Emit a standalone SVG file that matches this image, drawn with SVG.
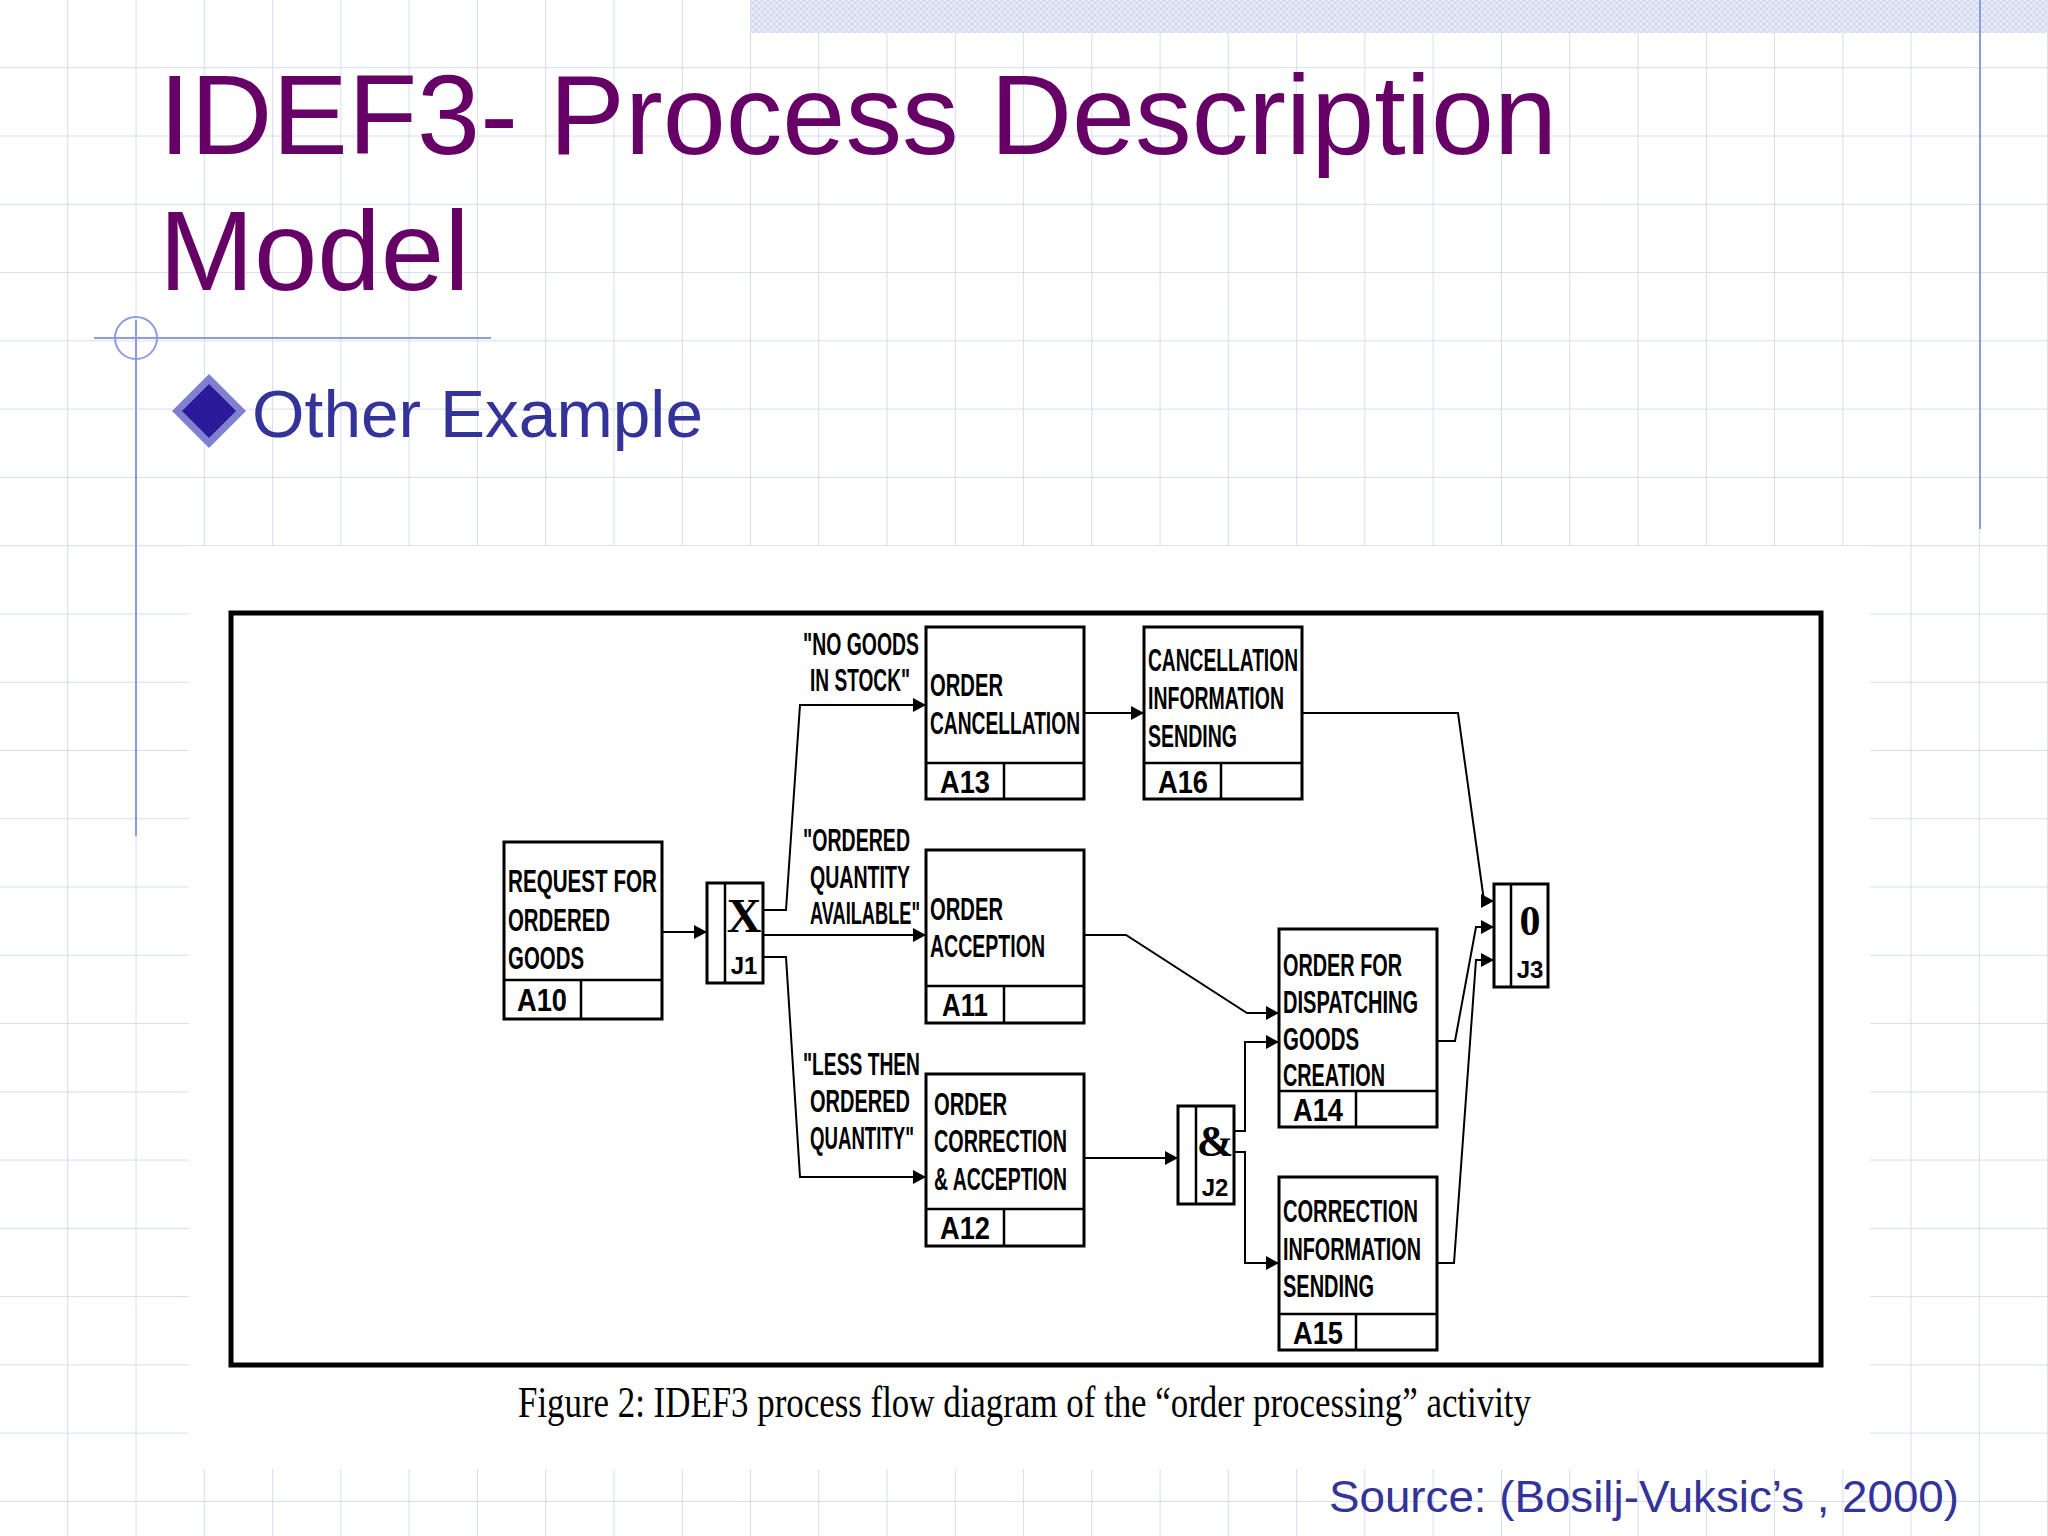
<svg xmlns="http://www.w3.org/2000/svg" width="2048" height="1536" viewBox="0 0 2048 1536">
<defs>
<pattern id="grid" width="68.27" height="68.27" patternUnits="userSpaceOnUse">
<path d="M68.27 0V68.27M0 68.27H68.27" fill="none" stroke="#c9d2f0" stroke-width="1.5"/>
</pattern>
<pattern id="tex" width="6" height="6" patternUnits="userSpaceOnUse">
<rect width="6" height="6" fill="#e6eaf7"/><path d="M0 0L6 6M6 0L0 6" stroke="#cdd5ee" stroke-width="1"/>
</pattern>
<marker id="ar" markerWidth="13" markerHeight="14" refX="13" refY="7" orient="auto" markerUnits="userSpaceOnUse">
<path d="M0 0L13 7L0 14Z" fill="#000"/>
</marker>
</defs>
<style>
.box{fill:#fff;stroke:#000;stroke-width:3}
.ln{fill:none;stroke:#000;stroke-width:2.5}
.c{fill:none;stroke:#000;stroke-width:2;marker-end:url(#ar)}
.t{font-family:"Liberation Sans",Arial,sans-serif;font-weight:bold;font-size:32px;fill:#000}
.j{font-family:"Liberation Serif","Times New Roman",serif;font-weight:bold;fill:#000;text-anchor:middle}
.jl{font-family:"Liberation Sans",Arial,sans-serif;font-weight:bold;font-size:24px;fill:#000;text-anchor:middle}
</style>
<rect width="2048" height="1536" fill="#fff"/>
<rect width="2048" height="1536" fill="url(#grid)"/>
<rect x="751" y="0" width="1297" height="33" fill="url(#tex)"/>
<line x1="1980" y1="0" x2="1980" y2="529" stroke="#8d9be0" stroke-width="2"/>
<line x1="94" y1="338" x2="491" y2="338" stroke="#8d9be0" stroke-width="2"/>
<line x1="136" y1="320" x2="136" y2="836" stroke="#8d9be0" stroke-width="2"/>
<circle cx="136" cy="338" r="21" fill="none" stroke="#8d9be0" stroke-width="2"/>
<text x="159" y="154" font-family="Liberation Sans,Arial,sans-serif" font-size="114" fill="#660066" textLength="1398" lengthAdjust="spacingAndGlyphs">IDEF3- Process Description</text>
<text x="159" y="290" font-family="Liberation Sans,Arial,sans-serif" font-size="114" fill="#660066">Model</text>
<path d="M209 374L246 411L209 448L172 411Z" fill="#8080d0"/>
<path d="M209 384L236 411L209 438L182 411Z" fill="#2a1a9a"/>
<text x="252" y="437" font-family="Liberation Sans,Arial,sans-serif" font-size="67" fill="#333399" textLength="451" lengthAdjust="spacingAndGlyphs">Other Example</text>
<rect x="189" y="546" width="1681" height="923" fill="#fff"/>
<rect x="231" y="613" width="1590" height="752" fill="#fff" stroke="#000" stroke-width="5"/>
<text x="518" y="1417" font-family="Liberation Serif,Times New Roman,serif" font-size="44" textLength="1013" lengthAdjust="spacingAndGlyphs">Figure 2: IDEF3 process flow diagram of  the “order processing” activity</text>
<text x="1959" y="1512" text-anchor="end" font-family="Liberation Sans,Arial,sans-serif" font-size="44" fill="#333399" textLength="630" lengthAdjust="spacingAndGlyphs">Source: (Bosilj-Vuksic’s , 2000)</text>

<g id="connectors">
<path class="c" d="M662 932H707"/>
<path class="c" d="M763 910H786L800 705H926"/>
<path class="c" d="M763 935H926"/>
<path class="c" d="M763 957H786L800 1177H926"/>
<path class="c" d="M1084 713H1144"/>
<path class="c" d="M1302 713H1458L1484 901H1494"/>
<path class="c" d="M1084 935H1126L1247 1013H1279"/>
<path class="c" d="M1084 1158H1178"/>
<path class="c" d="M1234 1131H1245V1042H1279"/>
<path class="c" d="M1234 1152H1245V1263H1279"/>
<path class="c" d="M1437 1041H1455L1476 927H1494"/>
<path class="c" d="M1437 1263H1454L1476 960H1494"/>
</g>
<g id="labels">
<text class="t" x="803" y="655" textLength="116" lengthAdjust="spacingAndGlyphs">"NO GOODS</text>
<text class="t" x="810" y="691" textLength="100" lengthAdjust="spacingAndGlyphs">IN STOCK"</text>
<text class="t" x="803" y="851" textLength="107" lengthAdjust="spacingAndGlyphs">"ORDERED</text>
<text class="t" x="810" y="888" textLength="100" lengthAdjust="spacingAndGlyphs">QUANTITY</text>
<text class="t" x="810" y="924" textLength="110" lengthAdjust="spacingAndGlyphs">AVAILABLE"</text>
<text class="t" x="803" y="1075" textLength="117" lengthAdjust="spacingAndGlyphs">"LESS THEN</text>
<text class="t" x="810" y="1112" textLength="100" lengthAdjust="spacingAndGlyphs">ORDERED</text>
<text class="t" x="810" y="1149" textLength="104" lengthAdjust="spacingAndGlyphs">QUANTITY"</text>
</g>
<g id="A10">
<rect class="box" x="504" y="842" width="158" height="177"/><path class="ln" d="M504 980H662M581 980V1019"/>
<text class="t" x="508" y="892" textLength="149" lengthAdjust="spacingAndGlyphs">REQUEST FOR</text>
<text class="t" x="508" y="931" textLength="102" lengthAdjust="spacingAndGlyphs">ORDERED</text>
<text class="t" x="508" y="969" textLength="76" lengthAdjust="spacingAndGlyphs">GOODS</text>
<text class="t" x="542" y="1011" text-anchor="middle" textLength="50" lengthAdjust="spacingAndGlyphs">A10</text>
</g>
<g id="J1">
<rect class="box" x="707" y="883" width="56" height="100"/><path class="ln" d="M725 883V983"/>
<text class="j" x="744" y="932" font-size="48">X</text>
<text class="jl" x="744" y="974">J1</text>
</g>
<g id="A13">
<rect class="box" x="926" y="627" width="158" height="172"/><path class="ln" d="M926 763H1084M1004 763V799"/>
<text class="t" x="930" y="696" textLength="73" lengthAdjust="spacingAndGlyphs">ORDER</text>
<text class="t" x="930" y="734" textLength="150" lengthAdjust="spacingAndGlyphs">CANCELLATION</text>
<text class="t" x="965" y="793" text-anchor="middle" textLength="50" lengthAdjust="spacingAndGlyphs">A13</text>
</g>
<g id="A11">
<rect class="box" x="926" y="850" width="158" height="173"/><path class="ln" d="M926 986H1084M1004 986V1023"/>
<text class="t" x="930" y="920" textLength="73" lengthAdjust="spacingAndGlyphs">ORDER</text>
<text class="t" x="930" y="957" textLength="115" lengthAdjust="spacingAndGlyphs">ACCEPTION</text>
<text class="t" x="965" y="1016" text-anchor="middle" textLength="46" lengthAdjust="spacingAndGlyphs">A11</text>
</g>
<g id="A12">
<rect class="box" x="926" y="1074" width="158" height="172"/><path class="ln" d="M926 1209H1084M1004 1209V1246"/>
<text class="t" x="934" y="1115" textLength="73" lengthAdjust="spacingAndGlyphs">ORDER</text>
<text class="t" x="934" y="1152" textLength="133" lengthAdjust="spacingAndGlyphs">CORRECTION</text>
<text class="t" x="934" y="1190" textLength="133" lengthAdjust="spacingAndGlyphs">&amp; ACCEPTION</text>
<text class="t" x="965" y="1239" text-anchor="middle" textLength="50" lengthAdjust="spacingAndGlyphs">A12</text>
</g>
<g id="A16">
<rect class="box" x="1144" y="627" width="158" height="172"/><path class="ln" d="M1144 763H1302M1221 763V799"/>
<text class="t" x="1148" y="671" textLength="150" lengthAdjust="spacingAndGlyphs">CANCELLATION</text>
<text class="t" x="1148" y="709" textLength="136" lengthAdjust="spacingAndGlyphs">INFORMATION</text>
<text class="t" x="1148" y="747" textLength="89" lengthAdjust="spacingAndGlyphs">SENDING</text>
<text class="t" x="1183" y="793" text-anchor="middle" textLength="50" lengthAdjust="spacingAndGlyphs">A16</text>
</g>
<g id="A14">
<rect class="box" x="1279" y="929" width="158" height="198"/><path class="ln" d="M1279 1091H1437M1356 1091V1127"/>
<text class="t" x="1283" y="976" textLength="119" lengthAdjust="spacingAndGlyphs">ORDER FOR</text>
<text class="t" x="1283" y="1013" textLength="135" lengthAdjust="spacingAndGlyphs">DISPATCHING</text>
<text class="t" x="1283" y="1050" textLength="76" lengthAdjust="spacingAndGlyphs">GOODS</text>
<text class="t" x="1283" y="1086" textLength="102" lengthAdjust="spacingAndGlyphs">CREATION</text>
<text class="t" x="1318" y="1121" text-anchor="middle" textLength="50" lengthAdjust="spacingAndGlyphs">A14</text>
</g>
<g id="A15">
<rect class="box" x="1279" y="1177" width="158" height="173"/><path class="ln" d="M1279 1314H1437M1356 1314V1350"/>
<text class="t" x="1283" y="1222" textLength="135" lengthAdjust="spacingAndGlyphs">CORRECTION</text>
<text class="t" x="1283" y="1260" textLength="138" lengthAdjust="spacingAndGlyphs">INFORMATION</text>
<text class="t" x="1283" y="1297" textLength="91" lengthAdjust="spacingAndGlyphs">SENDING</text>
<text class="t" x="1318" y="1344" text-anchor="middle" textLength="50" lengthAdjust="spacingAndGlyphs">A15</text>
</g>
<g id="J2">
<rect class="box" x="1178" y="1106" width="56" height="98"/><path class="ln" d="M1196 1106V1204"/>
<text class="j" x="1215" y="1156" font-size="44">&amp;</text>
<text class="jl" x="1215" y="1196">J2</text>
</g>
<g id="J3">
<rect class="box" x="1494" y="884" width="54" height="103"/><path class="ln" d="M1511 884V987"/>
<text class="j" x="1530" y="935" font-size="42">0</text>
<text class="jl" x="1530" y="978">J3</text>
</g>
</svg>
